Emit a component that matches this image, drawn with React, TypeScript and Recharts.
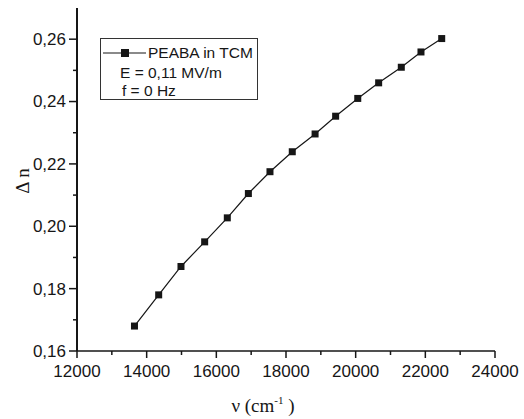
import { LineChart, Line, XAxis, YAxis, Label } from "recharts";

// wavenumber (cm^-1) and birefringence
const nu = [13650, 14345, 14985, 15665, 16315, 16920, 17540, 18180, 18835, 19425, 20060, 20660, 21310, 21875, 22470];
const dn = [0.168, 0.178, 0.1871, 0.195, 0.2027, 0.2105, 0.2175, 0.2239, 0.2296, 0.2353, 0.241, 0.246, 0.251, 0.2559, 0.2602];

const xTicks = [12000, 13000, 14000, 15000, 16000, 17000, 18000, 19000, 20000, 21000, 22000, 23000, 24000];
const yTicks = [0.16, 0.17, 0.18, 0.19, 0.2, 0.21, 0.22, 0.23, 0.24, 0.25, 0.26];

const data = nu.map((v, i) => ({ nu: v, dn: dn[i] }));

const INK = "#161616";
const SANS = "'Liberation Sans', Arial, sans-serif";
const SERIF = "'Liberation Serif', 'Times New Roman', serif";

const XTick = (props: any) => {
  const { x, y, payload } = props;
  const major = payload.value % 2000 === 0;
  return (
    <g>
      <line x1={x} y1={y} x2={x} y2={y + (major ? 7 : 4)} stroke={INK} strokeWidth={1.5} />
      {major && (
        <text x={x} y={y + 26} textAnchor="middle" fontFamily={SANS} fontSize={17} fill={INK}>
          {payload.value}
        </text>
      )}
    </g>
  );
};

const YTick = (props: any) => {
  const { x, y, payload } = props;
  const major = Math.round(payload.value * 100) % 2 === 0;
  return (
    <g>
      <line x1={x} y1={y} x2={x - (major ? 8 : 4)} y2={y} stroke={INK} strokeWidth={1.5} />
      {major && (
        <text x={x - 11} y={y} dy="0.35em" textAnchor="end" fontFamily={SANS} fontSize={17} fill={INK}>
          {payload.value.toFixed(2).replace(".", ",")}
        </text>
      )}
    </g>
  );
};

const Square = (props: any) => {
  const { cx, cy } = props;
  if (cx == null || cy == null) return null;
  return <rect x={cx - 3.5} y={cy - 3.5} width={7} height={7} fill={INK} />;
};

const XTitle = (props: any) => {
  const vb = props.viewBox;
  return (
    <text x={vb.x + 186} y={vb.y + 61} textAnchor="middle" fontFamily={SERIF} fontSize={19} fill={INK}>
      ν (cm
      <tspan dy={-8} fontSize={11}>-1</tspan>
      <tspan dy={8}> )</tspan>
    </text>
  );
};

const YTitle = (props: any) => {
  const vb = props.viewBox;
  const cx = vb.x + 22;
  const cy = 181;
  return (
    <text x={cx} y={cy} dy="0.35em" textAnchor="middle" fontFamily={SERIF} fontSize={19} fill={INK} transform={`rotate(-90 ${cx} ${cy})`}>
      Δ n
    </text>
  );
};

export default function App() {
  return (
    <div style={{ position: "absolute", left: 0, top: 0, width: 524, height: 419, background: "#fff" }}>
      <LineChart width={524} height={419} data={data} margin={{ top: 8, right: 29, bottom: 0, left: 0 }}>
        <XAxis
          dataKey="nu"
          type="number"
          domain={[12000, 24000]}
          ticks={xTicks}
          interval={0}
          height={68}
          tickSize={0}
          tickMargin={0}
          tickLine={false}
          tick={<XTick />}
          axisLine={{ stroke: INK, strokeWidth: 1.5 }}
        >
          <Label content={<XTitle />} />
        </XAxis>
        <YAxis
          dataKey="dn"
          type="number"
          domain={[0.16, 0.27]}
          ticks={yTicks}
          interval={0}
          width={77}
          tickSize={0}
          tickMargin={0}
          tickLine={false}
          tick={<YTick />}
          axisLine={{ stroke: INK, strokeWidth: 2 }}
        >
          <Label content={<YTitle />} />
        </YAxis>
        <Line
          dataKey="dn"
          stroke={INK}
          strokeWidth={1.2}
          dot={<Square />}
          activeDot={false}
          isAnimationActive={false}
        />
      </LineChart>
      <div
        style={{
          position: "absolute",
          left: 100,
          top: 38,
          width: 158,
          height: 62,
          border: "1px solid #333",
          fontFamily: SANS,
          fontSize: 15.5,
          lineHeight: "18px",
          color: INK,
          boxSizing: "border-box",
        }}
      >
        <div style={{ position: "absolute", left: 2, top: 5, height: 18, display: "flex", alignItems: "center", whiteSpace: "nowrap" }}>
          <svg width={43} height={12} style={{ display: "block" }}>
            <line x1={0} y1={6} x2={43} y2={6} stroke={INK} strokeWidth={1.2} />
            <rect x={18} y={2} width={8} height={8} fill={INK} />
          </svg>
          <span style={{ marginLeft: 2 }}>PEABA in TCM</span>
        </div>
        <div style={{ position: "absolute", left: 19, top: 25, whiteSpace: "nowrap" }}>E = 0,11 MV/m</div>
        <div style={{ position: "absolute", left: 21, top: 43, whiteSpace: "nowrap" }}>f = 0 Hz</div>
      </div>
    </div>
  );
}
